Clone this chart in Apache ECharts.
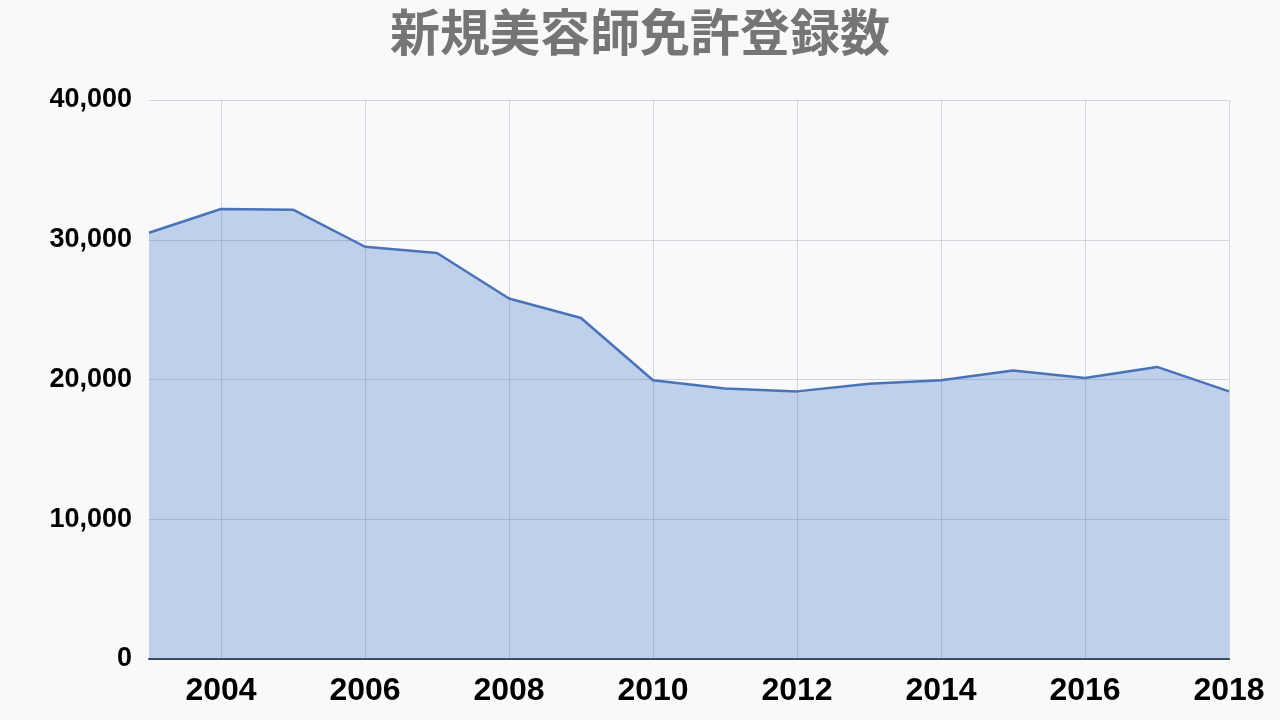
<!DOCTYPE html>
<html>
<head>
<meta charset="utf-8">
<script src="https://cdn.jsdelivr.net/npm/echarts@6/dist/echarts.min.js"></script>
<style>
html,body{margin:0;padding:0;background:#f8f9fb;}
#chart{width:1280px;height:720px;}
</style>
</head>
<body>
<div id="chart"></div>
<script>
const titleText = '新規美容師免許登録数';
const years = ['2003','2004','2005','2006','2007','2008','2009','2010','2011','2012','2013','2014','2015','2016','2017','2018'];
const registrations = [30500,32200,32150,29500,29050,25800,24400,19950,19350,19150,19700,19950,20650,20100,20900,19150];
const yTicks = [0,10000,20000,30000,40000];

const chart = echarts.init(document.getElementById('chart'));
const evenYear = (i, v) => Number(years[i]) % 2 === 0;
chart.setOption({
  backgroundColor: '#f8f9fb',
  animation: false,
  title: {
    text: titleText,
    left: 'center',
    top: 2,
    textStyle: {fontFamily: 'Noto Sans CJK JP', fontSize: 50, fontWeight: 'bold', color: '#757575'}
  },
  grid: {left: 149, right: 51, top: 100, bottom: 61, containLabel: false},
  xAxis: {
    type: 'category',
    data: years,
    boundaryGap: false,
    axisLine: {lineStyle: {color: '#3f444c', width: 2}},
    axisTick: {show: false},
    axisLabel: {
      interval: evenYear,
      margin: 16,
      fontFamily: 'Liberation Sans, Arial', fontWeight: 'bold', fontSize: 32, color: '#000'
    },
    splitLine: {show: true, interval: evenYear, lineStyle: {color: '#d3d5da', width: 1}}
  },
  yAxis: {
    type: 'value',
    min: yTicks[0],
    max: yTicks[yTicks.length - 1],
    interval: 10000,
    axisLine: {show: false},
    axisTick: {show: false},
    axisLabel: {
      margin: 17,
      fontFamily: 'Liberation Sans, Arial', fontWeight: 'bold', fontSize: 27, color: '#000',
      formatter: v => v.toLocaleString('en-US')
    },
    splitLine: {lineStyle: {color: '#d3d5da', width: 1}}
  },
  series: [{
    type: 'line',
    data: registrations,
    symbol: 'none',
    lineStyle: {color: '#4a72b8', width: 2.5},
    areaStyle: {color: 'rgba(61,112,194,0.3)', opacity: 1}
  }]
});
</script>
</body>
</html>
